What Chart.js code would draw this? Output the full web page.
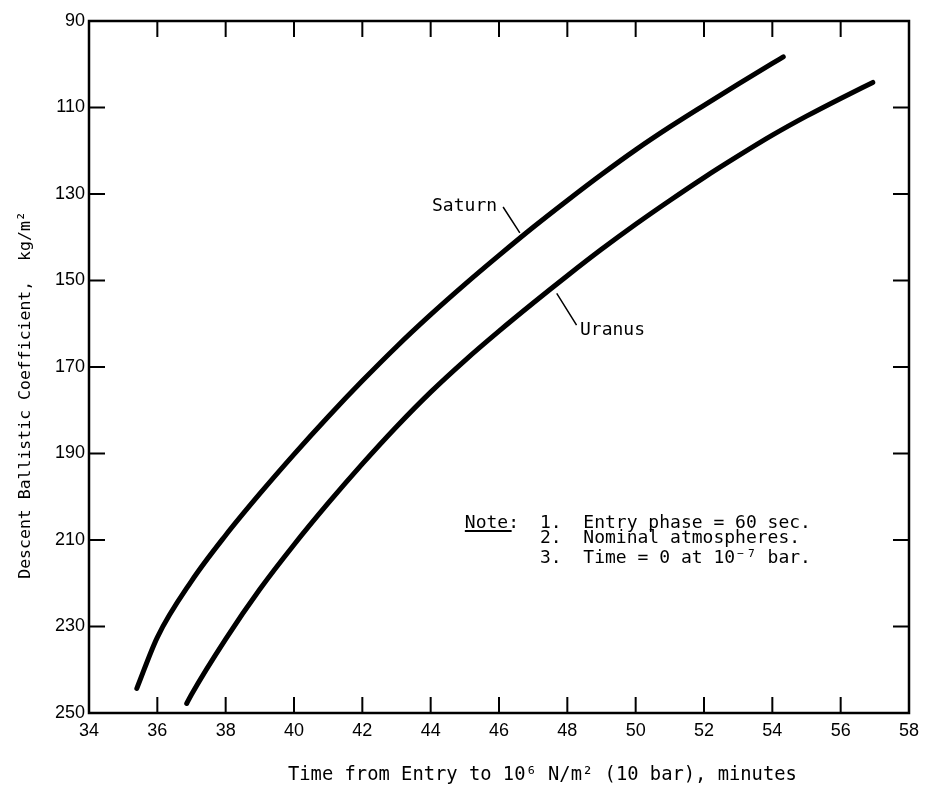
<!DOCTYPE html>
<html>
<head>
<meta charset="utf-8">
<script src="https://cdn.jsdelivr.net/npm/chart.js@4.4.1/dist/chart.umd.min.js"></script>
<style>
  html, body { margin: 0; padding: 0; background: #fff; }
  #wrap { width: 929px; height: 790px; }
</style>
</head>
<body>
<div id="wrap"><canvas id="chart" width="929" height="790"></canvas></div>
<script>
// time from entry to 10 bar (min) vs descent ballistic coefficient (kg/m2)
const saturnTime = [35.40, 36.0, 37.0, 38.0, 39.0, 40.0, 41.0, 42.0, 43.0, 44.0, 45.0, 46.0, 47.0, 48.0, 49.0, 50.0, 51.0, 52.0, 53.0, 54.0, 54.32]
const saturnBeta = [244.3, 232.5, 219.5, 208.9, 199.3, 190.2, 181.5, 173.2, 165.3, 157.9, 150.9, 144.2, 137.7, 131.5, 125.5, 119.8, 114.5, 109.5, 104.6, 99.8, 98.3]

const uranusTime = [36.86, 37.0, 38.0, 39.0, 40.0, 41.0, 42.0, 43.0, 44.0, 45.0, 46.0, 47.0, 48.0, 49.0, 50.0, 51.0, 52.0, 53.0, 54.0, 55.0, 56.0, 56.94]
const uranusBeta = [247.8, 245.7, 232.9, 221.4, 211.1, 201.5, 192.4, 183.8, 175.8, 168.5, 161.7, 155.2, 148.9, 142.8, 137.0, 131.5, 126.2, 121.2, 116.4, 112.0, 107.9, 104.2]

const xTickValues = [34, 36, 38, 40, 42, 44, 46, 48, 50, 52, 54, 56, 58]
const yTickValues = [90, 110, 130, 150, 170, 190, 210, 230, 250]

const xTitle = 'Time from Entry to 10\u2076 N/m\u00b2 (10 bar), minutes'
const yTitle = 'Descent Ballistic Coefficient,  kg/m\u00b2'
const noteLines = ['1.  Entry phase = 60 sec.', '2.  Nominal atmospheres.', '3.  Time = 0 at 10\u207b\u2077 bar.']

const mono = '18px "DejaVu Sans Mono", monospace'
const sans = '"Liberation Sans", Arial, sans-serif'

const toPoints = (xs, ys) => xs.map((x, i) => ({ x: x, y: ys[i] }))

// frame, inward tick marks, titles and the callouts
const paperPlugin = {
  id: 'paper',
  afterDraw(chart) {
    const { ctx, chartArea: a, scales } = chart
    const sx = scales.x, sy = scales.y
    const px = (v) => sx.getPixelForValue(v)
    const py = (v) => sy.getPixelForValue(v)
    ctx.save()
    ctx.strokeStyle = '#000'
    ctx.fillStyle = '#000'

    // box
    ctx.lineWidth = 2.5
    ctx.strokeRect(a.left, a.top, a.right - a.left, a.bottom - a.top)

    // ticks pointing into the plot
    ctx.lineWidth = 2
    const tl = 16
    ctx.beginPath()
    xTickValues.slice(1, -1).forEach((v) => {
      const x = px(v)
      ctx.moveTo(x, a.bottom); ctx.lineTo(x, a.bottom - tl)
      ctx.moveTo(x, a.top); ctx.lineTo(x, a.top + tl)
    })
    yTickValues.slice(1, -1).forEach((v) => {
      const y = py(v)
      ctx.moveTo(a.left, y); ctx.lineTo(a.left + tl, y)
      ctx.moveTo(a.right, y); ctx.lineTo(a.right - tl, y)
    })
    ctx.stroke()

    // x title
    ctx.font = '18.8px "DejaVu Sans Mono", monospace'
    ctx.textAlign = 'left'
    ctx.textBaseline = 'middle'
    ctx.fillText(xTitle, 288, 775)

    // y title
    ctx.save()
    ctx.font = '16.5px "DejaVu Sans Mono", monospace'
    ctx.translate(26, 395)
    ctx.rotate(-Math.PI / 2)
    ctx.textAlign = 'center'
    ctx.fillText(yTitle, 0, 0)
    ctx.restore()

    // curve labels with leaders
    ctx.font = mono
    ctx.textBaseline = 'alphabetic'
    ctx.fillText('Saturn', px(44.04), py(133.9))
    ctx.fillText('Uranus', px(48.37), py(162.7))
    ctx.lineWidth = 1.5
    ctx.beginPath()
    ctx.moveTo(px(46.12), py(133.0)); ctx.lineTo(px(46.61), py(139.0))
    ctx.moveTo(px(47.69), py(153.0)); ctx.lineTo(px(48.27), py(160.3))
    ctx.stroke()

    // note block
    ctx.fillText('Note:', px(45.0), py(207.2))
    ctx.lineWidth = 2
    ctx.beginPath()
    ctx.moveTo(px(45.0), py(207.9)); ctx.lineTo(px(46.37), py(207.9))
    ctx.stroke()
    const noteY = [207.2, 210.7, 215.3]
    noteLines.forEach((t, i) => ctx.fillText(t, px(47.2), py(noteY[i])))

    ctx.restore()
  },
}

const curve = (label, pts) => ({
  label: label,
  data: pts,
  borderColor: '#000',
  borderWidth: 5,
  borderCapStyle: 'round',
  pointRadius: 0,
  fill: false,
  cubicInterpolationMode: 'monotone',
})

new Chart(document.getElementById('chart'), {
  type: 'line',
  data: {
    datasets: [
      curve('Saturn', toPoints(saturnTime, saturnBeta)),
      curve('Uranus', toPoints(uranusTime, uranusBeta)),
    ],
  },
  options: {
    responsive: false,
    animation: false,
    devicePixelRatio: 1,
    layout: { padding: { left: 0, top: 21, right: 20, bottom: 0 } },
    plugins: { legend: { display: false }, tooltip: { enabled: false } },
    scales: {
      x: {
        type: 'linear',
        min: 34,
        max: 58,
        grid: { display: false, drawTicks: false },
        border: { display: false },
        ticks: { color: '#000', font: { family: sans, size: 18 }, padding: 7, maxRotation: 0 },
        afterBuildTicks: (s) => { s.ticks = xTickValues.map((v) => ({ value: v })) },
        afterFit: (s) => { s.height = 77 },
      },
      y: {
        type: 'linear',
        reverse: true,
        min: 90,
        max: 250,
        grid: { display: false, drawTicks: false },
        border: { display: false },
        ticks: { color: '#000', font: { family: sans, size: 18 }, padding: 4 },
        afterBuildTicks: (s) => { s.ticks = yTickValues.map((v) => ({ value: v })) },
        afterFit: (s) => { s.width = 89 },
      },
    },
  },
  plugins: [paperPlugin],
})
</script>
</body>
</html>
